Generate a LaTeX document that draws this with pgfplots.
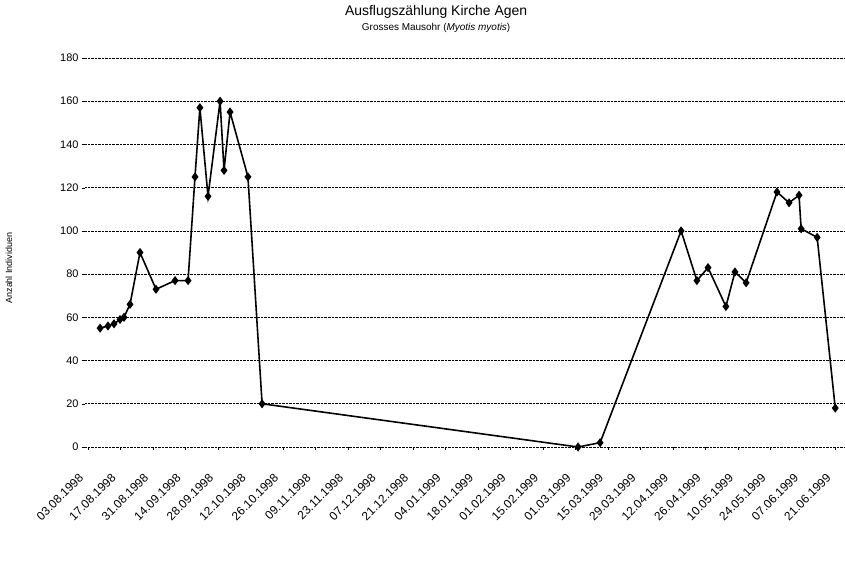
\documentclass[border=0pt]{standalone}
\usepackage{pgfplots}
\pgfplotsset{compat=1.18}
\usepackage{fontspec}
\setmainfont{Liberation Sans}
\begin{document}
\begin{tikzpicture}
\useasboundingbox (0,0) rectangle (845bp,562bp);
\begin{axis}[
  at={(85bp,115bp)}, anchor=south west,
  scale only axis, width=760bp, height=389bp,
  xmin=-1.29, xmax=326.1, ymin=0, ymax=180,
  ytick={0,20,...,180},
  xtick={0,14,...,322},
  xticklabels={03.08.1998,17.08.1998,31.08.1998,14.09.1998,28.09.1998,12.10.1998,26.10.1998,09.11.1998,23.11.1998,07.12.1998,21.12.1998,04.01.1999,18.01.1999,01.02.1999,15.02.1999,01.03.1999,15.03.1999,29.03.1999,12.04.1999,26.04.1999,10.05.1999,24.05.1999,07.06.1999,21.06.1999},
  xticklabel style={rotate=45, anchor=north east, font=\fontsize{12}{13}\selectfont, inner sep=1pt, xshift=-22bp, yshift=-8bp},
  yticklabel style={font=\fontsize{11}{12}\selectfont},
  /pgf/number format/assume math mode=true,
  ymajorgrids, grid style={densely dotted, black, line width=0.7pt},
  axis line style={draw=none},
  tick style={black},
  ytick pos=left, xtick pos=bottom,
  tick align=outside,
  major tick length=3pt,
  ylabel={Anzahl Individuen},
  ylabel style={at={(axis description cs:-0.1,0.46)}, anchor=center, font=\fontsize{9}{10}\selectfont},
  clip=false,
]
\addplot[black, line width=1.6pt, mark=diamond*, mark size=3.3pt] coordinates {
(5.2,55) (8.6,56) (11.2,57) (13.8,59) (15.5,60) (18.1,66) (22.4,90) (29.3,73) (37.5,77) (43.1,77)
(46.1,125) (48.2,157) (51.7,116) (56.9,160) (58.6,128) (61.2,155) (68.9,125) (75.0,20)
(211.1,0) (220.6,2) (255.5,100) (262.3,77) (267.1,83) (274.8,65) (278.7,81) (283.5,76)
(296.8,118) (302.0,113) (306.3,116.5) (307.2,101) (314.1,97) (321.9,18)
};
\node[font=\fontsize{14}{15}\selectfont] at (axis description cs:0.462,1.118) {Ausflugszählung Kirche Agen};
\node[font=\fontsize{10}{11}\selectfont] at (axis description cs:0.462,1.077) {Grosses Mausohr (\textit{Myotis myotis})};
\end{axis}
\end{tikzpicture}
\end{document}
